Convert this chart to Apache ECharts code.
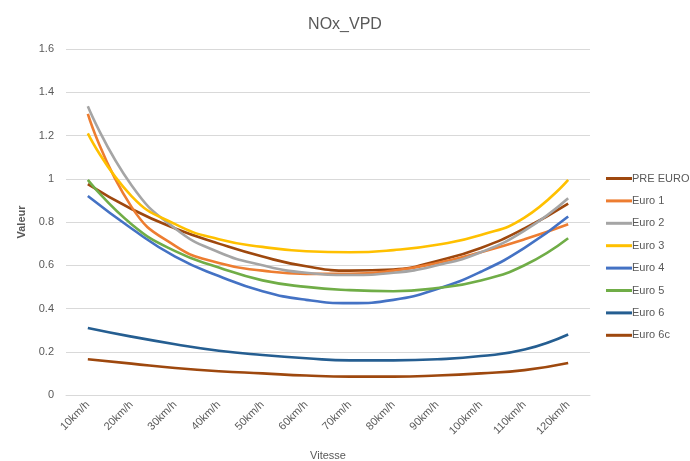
<!DOCTYPE html>
<html>
<head>
<meta charset="utf-8">
<script src="https://cdn.jsdelivr.net/npm/echarts@6/dist/echarts.min.js"></script>
<style>
  html, body { margin: 0; padding: 0; background: #fff; }
  #chart { width: 690px; height: 461px; }
</style>
</head>
<body>
<div id="chart"></div>
<script>
// catégories (vitesses)
var vitesses = ['10km/h', '20km/h', '30km/h', '40km/h', '50km/h', '60km/h',
  '70km/h', '80km/h', '90km/h', '100km/h', '110km/h', '120km/h'];

// valeurs
var preEuro = [0.975, 0.86, 0.77, 0.70, 0.64, 0.595, 0.575, 0.58, 0.62, 0.68, 0.77, 0.885];
var euro1 = [1.30, 0.87, 0.69, 0.61, 0.575, 0.56, 0.56, 0.575, 0.61, 0.66, 0.72, 0.79];
var euro2 = [1.335, 0.97, 0.77, 0.66, 0.60, 0.565, 0.555, 0.565, 0.60, 0.66, 0.76, 0.91];
var euro3 = [1.21, 0.92, 0.79, 0.72, 0.685, 0.665, 0.66, 0.67, 0.695, 0.74, 0.82, 0.995];
var euro4 = [0.92, 0.77, 0.64, 0.55, 0.48, 0.44, 0.425, 0.44, 0.49, 0.57, 0.68, 0.825];
var euro5 = [0.995, 0.79, 0.665, 0.59, 0.53, 0.50, 0.485, 0.48, 0.495, 0.53, 0.60, 0.725];
var euro6 = [0.31, 0.27, 0.235, 0.205, 0.185, 0.17, 0.16, 0.16, 0.165, 0.18, 0.21, 0.28];
var euro6c = [0.165, 0.145, 0.125, 0.11, 0.10, 0.09, 0.085, 0.085, 0.09, 0.10, 0.115, 0.148];

var noms = ['PRE EURO', 'Euro 1', 'Euro 2', 'Euro 3', 'Euro 4', 'Euro 5', 'Euro 6', 'Euro 6c'];
var couleurs = ['#9E480E', '#ED7D31', '#A5A5A5', '#FFC000', '#4472C4', '#70AD47', '#255E91', '#9E480E'];
var donnees = [preEuro, euro1, euro2, euro3, euro4, euro5, euro6, euro6c];

var police = '"Liberation Sans", sans-serif';

var myChart = echarts.init(document.getElementById('chart'), null, { renderer: 'canvas' });

var series = [];
for (var i = 0; i < noms.length; i++) {
  series.push({
    name: noms[i],
    type: 'line',
    smooth: true,
    symbol: 'none',
    lineStyle: { width: 2.6, color: couleurs[i] },
    itemStyle: { color: couleurs[i] },
    data: donnees[i]
  });
}

var option = {
  backgroundColor: '#fff',
  title: {
    text: 'NOx_VPD',
    left: 'center',
    top: 12,
    textStyle: { fontFamily: police, fontSize: 16, fontWeight: 'normal', color: '#595959' }
  },
  legend: {
    orient: 'vertical',
    left: 601,
    top: 168,
    itemWidth: 26,
    itemHeight: 3,
    itemGap: 11.4,
    icon: 'rect',
    data: noms,
    textStyle: { fontFamily: police, fontSize: 11, color: '#595959', padding: [0, 0, 0, -5] }
  },
  grid: {
    left: 66,
    right: 100,
    top: 49,
    bottom: 66,
    outerBoundsMode: 'none'
  },
  xAxis: {
    type: 'category',
    data: vitesses,
    boundaryGap: true,
    name: 'Vitesse',
    nameLocation: 'middle',
    nameGap: 55,
    nameTextStyle: { fontFamily: police, fontSize: 11, color: '#595959' },
    axisLine: { lineStyle: { color: '#D9D9D9' } },
    axisTick: { show: false },
    axisLabel: {
      interval: 0,
      rotate: 45,
      margin: 8,
      fontFamily: police,
      fontSize: 11,
      color: '#595959'
    }
  },
  yAxis: {
    type: 'value',
    min: 0,
    max: 1.6,
    interval: 0.2,
    name: 'Valeur',
    nameLocation: 'middle',
    nameGap: 31,
    nameTextStyle: { fontFamily: police, fontSize: 11, fontWeight: 'bold', color: '#595959' },
    axisLine: { show: false },
    axisTick: { show: false },
    axisLabel: {
      margin: 12,
      fontFamily: police,
      fontSize: 11,
      color: '#595959'
    },
    splitLine: { lineStyle: { color: '#D9D9D9', width: 1 } }
  },
  series: series
};

myChart.setOption(option);
</script>
</body>
</html>
